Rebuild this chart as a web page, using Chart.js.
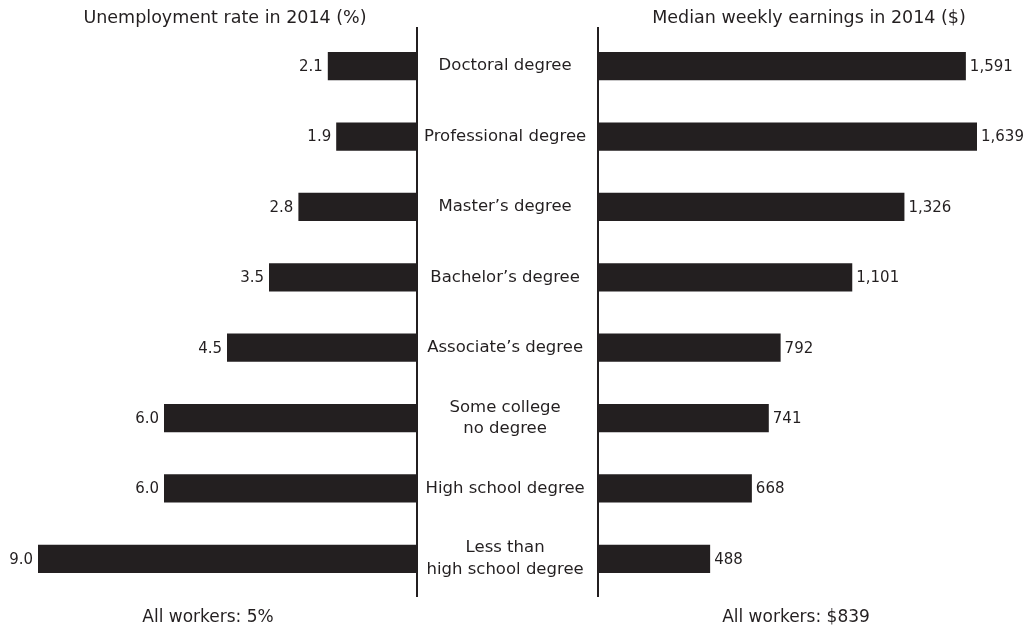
<!DOCTYPE html>
<html lang="en"><head>
<meta charset="utf-8"/>
<title>Education pays</title>
<script src="https://cdn.jsdelivr.net/npm/chart.js"></script>
<style>
    body { margin: 0; background: #fff; font-family: 'DejaVu Sans', sans-serif; color: #231f20; }
    #wrap { position: relative; width: 1024px; height: 628px; }
    .txt { position: absolute; font-size: 17px; white-space: nowrap; transform: translateX(-50%); }
    .head { font-size: 17.5px; }
    #leftBox { position: absolute; left: 0; top: 0; width: 597px; height: 628px; }
    #rightBox { position: absolute; left: 597px; top: 0; width: 427px; height: 628px; }
</style>
</head>
<body>
<div id="wrap">
    <div id="leftBox"><canvas id="leftChart"></canvas></div>
    <div id="rightBox"><canvas id="rightChart"></canvas></div>
    <div class="txt head" style="left:225px; top:7px;">Unemployment rate in 2014 (%)</div>
    <div class="txt head" style="left:809px; top:7px;">Median weekly earnings in 2014 ($)</div>
    <div class="txt" style="left:208px; top:606px;">All workers: 5%</div>
    <div class="txt" style="left:796px; top:606px;">All workers: $839</div>
</div>
<script>
    const categories = [
        'Doctoral degree',
        'Professional degree',
        "Master\u2019s degree",
        "Bachelor\u2019s degree",
        "Associate\u2019s degree",
        ['Some college', 'no degree'],
        'High school degree',
        ['Less than', 'high school degree']
    ];
    const unemployment = [2.1, 1.9, 2.8, 3.5, 4.5, 6.0, 6.0, 9.0];
    const earnings = [1591, 1639, 1326, 1101, 792, 741, 668, 488];

    const ink = '#231f20';
    const font = "'DejaVu Sans', sans-serif";

    // value labels next to the bar ends
    const valueLabels = {
        id: 'valueLabels',
        afterDatasetsDraw(chart, args, opts) {
            const ctx = chart.ctx;
            const meta = chart.getDatasetMeta(0);
            ctx.save();
            ctx.fillStyle = ink;
            ctx.font = '15px ' + font;
            ctx.textBaseline = 'middle';
            meta.data.forEach((bar, i) => {
                const v = chart.data.datasets[0].data[i];
                const s = opts.fmt(v);
                if (opts.side === 'left') {
                    ctx.textAlign = 'right';
                    ctx.fillText(s, bar.x - 5, bar.y + 1);
                } else {
                    ctx.textAlign = 'left';
                    ctx.fillText(s, bar.x + 4, bar.y + 1);
                }
            });
            ctx.restore();
        }
    };

    // vertical axis line, a bit longer than the plot area
    const axisLine = {
        id: 'axisLine',
        afterDraw(chart, args, opts) {
            const ctx = chart.ctx;
            ctx.save();
            ctx.strokeStyle = ink;
            ctx.lineWidth = 2;
            ctx.beginPath();
            ctx.moveTo(opts.x, 27);
            ctx.lineTo(opts.x, 597);
            ctx.stroke();
            ctx.restore();
        }
    };

    const barDataset = (data) => ({
        data: data,
        backgroundColor: ink,
        borderWidth: 0,
        categoryPercentage: 1,
        barPercentage: 0.4
    });

    new Chart(document.getElementById('leftChart'), {
        type: 'bar',
        data: { labels: categories, datasets: [barDataset(unemployment)] },
        plugins: [valueLabels, axisLine],
        options: {
            indexAxis: 'y',
            responsive: true,
            maintainAspectRatio: false,
            animation: false,
            layout: { padding: { left: 38, top: 31, bottom: 34, right: 0 } },
            scales: {
                x: { reverse: true, min: 0, max: 9, display: false },
                y: {
                    position: 'right',
                    grid: { display: false },
                    border: { display: false },
                    afterFit(scale) { scale.width = 181; },
                    ticks: {
                        crossAlign: 'center',
                        padding: 0,
                        color: ink,
                        font: { family: font, size: 16.5, lineHeight: 1.3 }
                    }
                }
            },
            plugins: {
                legend: { display: false },
                tooltip: { enabled: false },
                valueLabels: { side: 'left', fmt: v => v.toFixed(1) },
                axisLine: { x: 417 }
            }
        }
    });

    new Chart(document.getElementById('rightChart'), {
        type: 'bar',
        data: { labels: categories, datasets: [barDataset(earnings)] },
        plugins: [valueLabels, axisLine],
        options: {
            indexAxis: 'y',
            responsive: true,
            maintainAspectRatio: false,
            animation: false,
            layout: { padding: { left: 0, top: 31, bottom: 34, right: 47 } },
            scales: {
                x: { min: 0, max: 1639, display: false },
                y: { display: false }
            },
            plugins: {
                legend: { display: false },
                tooltip: { enabled: false },
                valueLabels: { side: 'right', fmt: v => v.toLocaleString('en-US') },
                axisLine: { x: 1 }
            }
        }
    });
</script>
</body></html>
